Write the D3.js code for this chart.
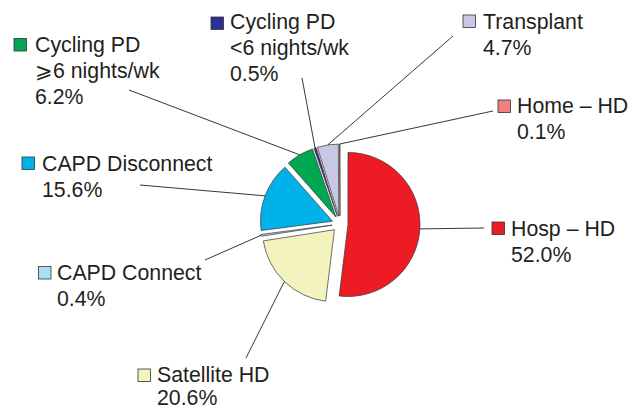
<!DOCTYPE html>
<html><head><meta charset="utf-8">
<script src="https://cdn.jsdelivr.net/npm/d3@7"></script>
<style>html,body{margin:0;padding:0;background:#fff;}svg{display:block;}</style>
</head><body>
<div id="chart"></div>
<script>
// ---- data ----
const categories = ["Hosp – HD","Satellite HD","CAPD Connect","CAPD Disconnect","Cycling PD ⩾6 nights/wk","Cycling PD <6 nights/wk","Transplant","Home – HD"];
const labelLines = [["Hosp – HD"],["Satellite HD"],["CAPD Connect"],["CAPD Disconnect"],["Cycling PD","⩾6 nights/wk"],["Cycling PD","<6 nights/wk"],["Transplant"],["Home – HD"]];
const values = [52.0, 20.6, 0.4, 15.6, 6.2, 0.5, 4.7, 0.1];
const colors = ["#ED1C24","#F3F3BD","#A9DEF5","#00B2EA","#00A651","#2E3192","#C9C8E4","#F28083"];

// ---- layout (label placement) ----
const W = 633, H = 410;
const cx = 340, cy = 224, R = 72, explode = 8;
const labelLayout = [
  {sx:492, sy:222, tx:511, by:236, lx:484, ly:228, lh:26},
  {sx:138, sy:369, tx:157, by:382, lx:246, ly:358, lh:23},
  {sx:38.5, sy:266.5, tx:57, by:279.5, lx:205, ly:260, lh:26},
  {sx:22, sy:157, tx:42, by:170.5, lx:140, ly:185, lh:26},
  {sx:14, sy:38.5, tx:35, by:52, lx:129, ly:90, lh:26},
  {sx:211, sy:17, tx:230, by:29, lx:302, ly:78, lh:26},
  {sx:463, sy:15, tx:483, by:29, lx:453, ly:36, lh:26},
  {sx:498, sy:100, tx:517, by:113, lx:493, ly:111, lh:26}
];
const fontSize = 21.3, sq = 12.5, ink = "#231F20";

const svg = d3.select("#chart").append("svg").attr("width", W).attr("height", H);

const pie = d3.pie().sort(null).value(d => d)(values);
const arc = d3.arc().innerRadius(0).outerRadius(R);

const g = svg.append("g");
pie.forEach((p, i) => {
  const mid = (p.startAngle + p.endAngle) / 2;
  const dx = Math.sin(mid) * explode, dy = -Math.cos(mid) * explode;
  const ox = cx + dx, oy = cy + dy;
  g.append("path")
    .attr("d", arc(p))
    .attr("transform", `translate(${ox},${oy})`)
    .attr("fill", colors[i])
    .attr("stroke", "#333")
    .attr("stroke-width", 0.7);
  const ex = ox + Math.sin(mid) * R, ey = oy - Math.cos(mid) * R;
  const L = labelLayout[i];
  svg.append("line")
    .attr("x1", L.lx).attr("y1", L.ly).attr("x2", ex).attr("y2", ey)
    .attr("stroke", ink).attr("stroke-width", 0.9);
  svg.append("rect")
    .attr("x", L.sx).attr("y", L.sy).attr("width", sq).attr("height", sq)
    .attr("fill", colors[i]).attr("stroke", "#333").attr("stroke-width", 0.8);
  const lines = labelLines[i].concat([values[i].toFixed(1) + "%"]);
  const t = svg.append("text")
    .attr("font-family", "'Liberation Sans', Arial, Helvetica, sans-serif")
    .attr("font-size", fontSize).attr("fill", ink);
  lines.forEach((s, k) => {
    t.append("tspan").attr("x", L.tx).attr("y", L.by + k * L.lh).text(s);
  });
});
</script>
</body></html>
